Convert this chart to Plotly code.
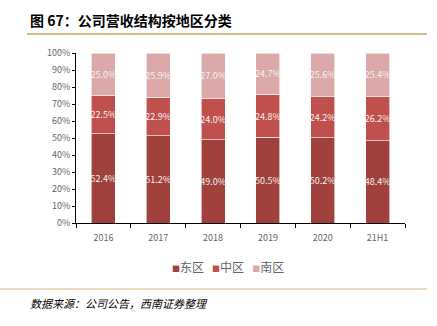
import plotly.graph_objects as go

# Revenue share by region (%)
years = ["2016", "2017", "2018", "2019", "2020", "21H1"]
east = [52.4, 51.2, 49.0, 50.5, 50.2, 48.4]
central = [22.5, 22.9, 24.0, 24.8, 24.2, 26.2]
south = [25.0, 25.9, 27.0, 24.7, 25.6, 25.4]

series = [
    ("东区", east, "#A0413E"),
    ("中区", central, "#C0504D"),
    ("南区", south, "#DBA9A9"),
]

W, H = 437, 326
x0, x1 = 76, 405
y_top, y_bot = 53, 223

fig = go.Figure()
for name, vals, color in series:
    fig.add_trace(go.Bar(
        x=years, y=vals, name=name,
        marker=dict(color=color, line=dict(color="white", width=0.6)),
        text=[f"{v:.1f}%" for v in vals],
        textposition="inside", insidetextanchor="middle", textangle=0,
        textfont=dict(family="Noto Sans CJK SC", size=9, color="#F2F2F2"),
        width=0.44, showlegend=False,
    ))

fig.update_layout(
    width=W, height=H,
    barmode="stack", barnorm="percent",
    margin=dict(l=0, r=0, t=0, b=0),
    paper_bgcolor="white", plot_bgcolor="white",
    font=dict(family="Noto Sans CJK SC", color="#595959", size=9),
    uniformtext=dict(mode="show", minsize=8),
    xaxis=dict(
        domain=[x0 / W, x1 / W], automargin=False,
        showline=True, linecolor="black", linewidth=1,
        ticks="outside", tickson="boundaries", ticklen=4, tickcolor="black",
        ticklabelstandoff=6,
        tickfont=dict(size=9, color="#666666"),
        showgrid=False,
    ),
    yaxis=dict(
        domain=[(H - y_bot) / H, (H - y_top) / H], automargin=False,
        range=[0, 100], dtick=10, ticksuffix="%",
        showline=True, linecolor="black", linewidth=1,
        ticks="outside", ticklen=3, tickcolor="black",
        tickfont=dict(size=9, color="#666666"),
        showgrid=False, zeroline=False,
    ),
    showlegend=False,
)

# legend row: small colored squares followed by series names
legend_html = "&nbsp;&nbsp;&nbsp;".join(
    f'<span style="color:{c};font-size:8px">■</span>{n}' for n, _, c in series
)
fig.add_annotation(text=legend_html, xref="paper", yref="paper",
                   x=228 / W, y=(H - 266) / H, xanchor="center", yanchor="middle",
                   showarrow=False,
                   font=dict(family="Noto Sans CJK SC", size=12, color="#666666"))

# header and footer rules
fig.add_shape(type="line", xref="paper", yref="paper",
              x0=27 / W, x1=427 / W, y0=(H - 34) / H, y1=(H - 34) / H,
              line=dict(color="#C9A469", width=1.5))
fig.add_shape(type="line", xref="paper", yref="paper",
              x0=0, x1=427 / W, y0=(H - 289) / H, y1=(H - 289) / H,
              line=dict(color="#D9B47A", width=1))

fig.add_annotation(text="<b>图 67：公司营收结构按地区分类</b>",
                   xref="paper", yref="paper", x=28 / W, y=(H - 20) / H,
                   xanchor="left", yanchor="middle", showarrow=False,
                   font=dict(family="Noto Sans CJK SC", size=14, color="black"))
fig.add_annotation(text="<i>数据来源：公司公告，西南证券整理</i>",
                   xref="paper", yref="paper", x=28 / W, y=(H - 303) / H,
                   xanchor="left", yanchor="middle", showarrow=False,
                   font=dict(family="Noto Sans CJK SC", size=11, color="black"))

fig.write_html("out.html")
